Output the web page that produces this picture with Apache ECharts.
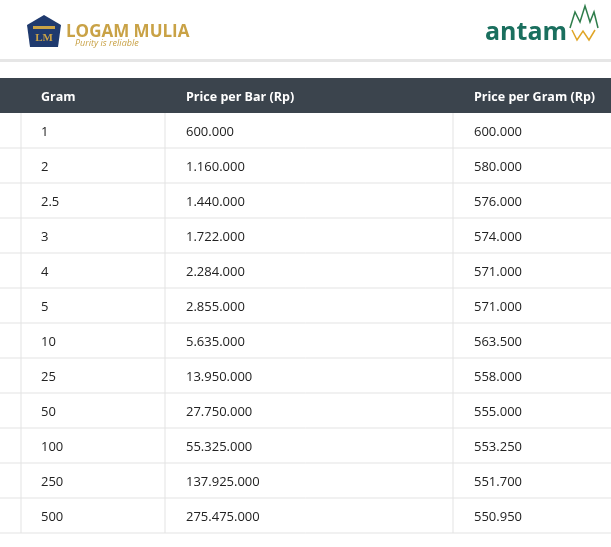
<!DOCTYPE html>
<html><head><meta charset="utf-8">
<script src="https://cdn.jsdelivr.net/npm/echarts@6/dist/echarts.min.js"></script>
<style>html,body{margin:0;padding:0;background:#fff}#c{width:611px;height:547px}</style>
</head><body><div id="c"></div>
<script>
var grams = ['1', '2', '2.5', '3', '4', '5', '10', '25', '50', '100', '250', '500'];
var pricePerBar = ['600.000', '1.160.000', '1.440.000', '1.722.000', '2.284.000', '2.855.000', '5.635.000', '13.950.000', '27.750.000', '55.325.000', '137.925.000', '275.475.000'];
var pricePerGram = ['600.000', '580.000', '576.000', '574.000', '571.000', '571.000', '563.500', '558.000', '555.000', '553.250', '551.700', '550.950'];
var headers = ['Gram', 'Price per Bar (Rp)', 'Price per Gram (Rp)'];

var colText = [41, 186, 474];
var colLines = [21, 165, 453];
var font = '"Open Sans", sans-serif';

var chart = echarts.init(document.getElementById('c'));
var rows = grams.map(function (g, i) { return [0, i, g, pricePerBar[i], pricePerGram[i]]; });

chart.setOption({
    animation: false,
    grid: { left: 0, right: 0, top: 113, bottom: 14 },
    xAxis: { type: 'value', min: 0, max: 1, show: false },
    yAxis: { type: 'category', inverse: true, data: grams, show: false },
    graphic: [
        { type: 'rect', shape: { x: 0, y: 59, width: 611, height: 3 }, style: { fill: '#e6e6e6' } },
        { type: 'rect', shape: { x: 0, y: 78, width: 611, height: 35 }, style: { fill: '#3b444d' } },
        { type: 'text', x: colText[0], y: 97, style: { text: headers[0], fill: '#fff', font: 'bold 12.5px ' + font, verticalAlign: 'middle' } },
        { type: 'text', x: colText[1], y: 97, style: { text: headers[1], fill: '#fff', font: 'bold 12.5px ' + font, verticalAlign: 'middle' } },
        { type: 'text', x: colText[2], y: 97, style: { text: headers[2], fill: '#fff', font: 'bold 12.5px ' + font, verticalAlign: 'middle' } },
        // Logam Mulia logo
        { type: 'polygon', shape: { points: [[44, 15], [61, 25], [58, 47], [30, 47], [27, 25]] }, style: { fill: '#1f3a6e' } },
        { type: 'rect', shape: { x: 33, y: 26, width: 22, height: 3 }, style: { fill: '#c9a246' } },
        { type: 'text', x: 44, y: 38, style: { text: 'LM', fill: '#c9a246', font: 'bold 11px serif', align: 'center', verticalAlign: 'middle' } },
        { type: 'text', x: 66, y: 32, style: { text: 'LOGAM MULIA', fill: '#c9a246', font: 'bold 17px ' + font, verticalAlign: 'middle' } },
        { type: 'text', x: 75, y: 43, style: { text: 'Purity is reliable', fill: '#c9a246', font: 'italic 9px ' + font, verticalAlign: 'middle' } },
        // Antam logo
        { type: 'text', x: 485, y: 33, style: { text: 'antam', fill: '#1a6f5e', font: 'bold 25px ' + font, verticalAlign: 'middle' } },
        { type: 'polyline', shape: { points: [[570, 28], [575, 12], [580, 22], [585, 6], [590, 22], [594, 12], [598, 28]] }, style: { stroke: '#2f7d4b', fill: null, lineWidth: 1.5 } },
        { type: 'polyline', shape: { points: [[572, 30], [577, 40], [583, 31], [589, 40], [595, 30]] }, style: { stroke: '#e0a526', fill: null, lineWidth: 1.5 } }
    ],
    series: [{
        type: 'custom',
        data: rows,
        renderItem: function (params, api) {
            var p = api.coord([0, api.value(1)]);
            var h = api.size([0, 1])[1];
            var top = p[1] - h / 2;
            var kids = [];
            colLines.forEach(function (x) {
                kids.push({ type: 'line', shape: { x1: x, y1: top, x2: x, y2: top + h }, style: { stroke: '#e3e3e3', lineWidth: 1 } });
            });
            kids.push({ type: 'line', shape: { x1: 0, y1: top + h, x2: 611, y2: top + h }, style: { stroke: '#e3e3e3', lineWidth: 1 } });
            [2, 3, 4].forEach(function (d, k) {
                kids.push({ type: 'text', x: colText[k], y: p[1] + 1.5, style: { text: String(rows[params.dataIndex][d]), fill: '#222', font: '13px ' + font, verticalAlign: 'middle' } });
            });
            return { type: 'group', children: kids };
        }
    }]
});
</script></body></html>
